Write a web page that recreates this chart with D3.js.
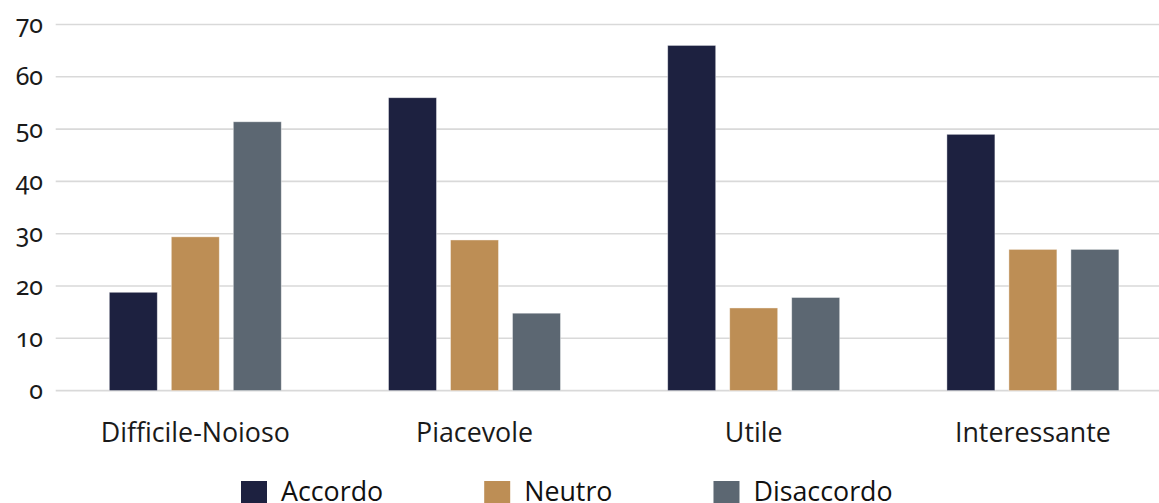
<!DOCTYPE html>
<html>
<head>
<meta charset="utf-8">
<script src="https://cdn.jsdelivr.net/npm/d3@7"></script>
<style>
  html, body { margin: 0; padding: 0; background: #fff; }
  svg { display: block; }
  .ytick text { font-family: "Noto Sans", "Open Sans", sans-serif; font-variant-numeric: oldstyle-nums; font-feature-settings: "onum" 1; }
</style>
</head>
<body>
<svg id="chart" width="1159" height="503"></svg>
<script>
// Survey answers per statement
const categories = ["Difficile-Noioso", "Piacevole", "Utile", "Interessante"];
const seriesNames = ["Accordo", "Neutro", "Disaccordo"];
const accordo = [18.8, 56, 66, 49];
const neutro = [29.4, 28.8, 15.8, 27];
const disaccordo = [51.4, 14.8, 17.8, 27];
const yTicks = [0, 10, 20, 30, 40, 50, 60, 70];

const colors = ["#1d2140", "#bd8e55", "#5c6772"];
const seriesValues = [accordo, neutro, disaccordo];

const W = 1159, H = 503;
const plot = { left: 55.7, right: 1172.5, top: 24.5, bottom: 390.6 };

const svg = d3.select("#chart");

const x0 = d3.scaleBand()
  .domain(categories)
  .range([plot.left, plot.right])
  .paddingInner(0.384)
  .paddingOuter(0.192);

const x1 = d3.scaleBand()
  .domain(seriesNames)
  .range([0, x0.bandwidth()])
  .paddingInner(0.226)
  .paddingOuter(0);

const y = d3.scaleLinear()
  .domain([0, 70])
  .range([plot.bottom, plot.top]);

// Horizontal gridlines
svg.append("g")
  .selectAll("line")
  .data(yTicks)
  .join("line")
  .attr("x1", plot.left)
  .attr("x2", W)
  .attr("y1", d => y(d))
  .attr("y2", d => y(d))
  .attr("stroke", "#d9d9d9")
  .attr("stroke-width", 1.6);

// Y axis labels
const yAxis = svg.append("g")
  .attr("class", "ytick")
  .attr("transform", `translate(43,0)`)
  .call(d3.axisLeft(y).tickValues(yTicks).tickSize(0).tickPadding(0).tickFormat(d3.format("d")));
yAxis.select(".domain").remove();
yAxis.selectAll("text")
  .attr("font-size", 25)
  .attr("fill", "#1a1a1a")
  .attr("dy", "0.32em");

// Bars
const rows = categories.map((c, i) => ({ cat: c, vals: seriesNames.map((s, j) => ({ s, j, v: seriesValues[j][i] })) }));

svg.append("g")
  .selectAll("g")
  .data(rows)
  .join("g")
  .attr("transform", d => `translate(${x0(d.cat)},0)`)
  .selectAll("rect")
  .data(d => d.vals)
  .join("rect")
  .attr("x", d => x1(d.s))
  .attr("width", x1.bandwidth())
  .attr("y", d => y(d.v))
  .attr("height", d => y(0) - y(d.v))
  .attr("fill", d => colors[d.j])
  .attr("stroke", "#ffffff")
  .attr("stroke-opacity", 0.5)
  .attr("stroke-width", 0.8);

// Category labels
const xAxis = svg.append("g")
  .attr("transform", `translate(0,${plot.bottom})`)
  .call(d3.axisBottom(x0).tickSize(0).tickPadding(0));
xAxis.select(".domain").remove();
xAxis.selectAll("text")
  .attr("font-family", "'Open Sans', sans-serif")
  .attr("font-size", 26.8)
  .attr("fill", "#1a1a1a")
  .attr("dy", null)
  .attr("y", 51);

// Legend
const legend = svg.append("g");
let lx = 241;
seriesNames.forEach((name, j) => {
  const item = legend.append("g").attr("transform", `translate(${lx},0)`);
  item.append("rect")
    .attr("x", 0).attr("y", 481)
    .attr("width", 26).attr("height", 26)
    .attr("fill", colors[j]);
  const t = item.append("text")
    .attr("x", 40).attr("y", 500.7)
    .attr("font-family", "'Open Sans', sans-serif")
    .attr("font-size", 26.8)
    .attr("fill", "#111")
    .text(name);
  lx += 40 + t.node().getComputedTextLength() + 101;
});
</script>
</body>
</html>
